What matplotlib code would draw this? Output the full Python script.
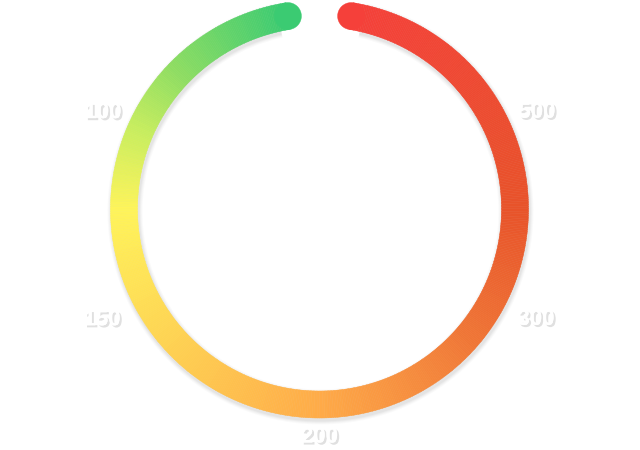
import numpy as np
import matplotlib
matplotlib.use("Agg")
import matplotlib.pyplot as plt
from matplotlib.patches import Wedge, Circle
from matplotlib.colors import LinearSegmentedColormap
import matplotlib.patheffects as pe

# data
tick_labels = ["500", "300", "200", "150", "100"]
tick_angles = [66, 117, 180, 243, 294]   # degrees clockwise from 12 o'clock
tick_radii = [238, 243, 228, 244, 237]
arc_start, arc_end = 9.3, 350.7          # degrees clockwise from 12 o'clock

stops = [(0.0, '#F5403A'), (0.236, '#E8532A'), (0.353, '#F07535'),
         (0.5, '#FFAB48'), (0.764, '#FFF45A'), (0.834, '#C8EE5E'),
         (0.895, '#8EDD62'), (1.0, '#3BCB72')]
cmap = LinearSegmentedColormap.from_list('g', stops)

W, H = 640, 450
fig = plt.figure(figsize=(6.4, 4.5), dpi=100)
ax = fig.add_axes([0, 0, 1, 1])
ax.set_xlim(0, W)
ax.set_ylim(H, 0)
ax.axis('off')

cx, cy = 319.5, 209.0
r_out, width = 209.0, 27.0
r_mid = r_out - width / 2

def to_xy(theta_deg, r):
    t = np.radians(theta_deg)
    return cx + r * np.sin(t), cy - r * np.cos(t)

def mpl_angle(theta_deg):
    return theta_deg - 90

# soft shadow
for off, a in [(4, 0.02), (3, 0.025), (2, 0.03), (1, 0.03)]:
    ax.add_patch(Wedge((cx + 1.0, cy + 2.5), r_out + off, mpl_angle(arc_start + 3), mpl_angle(arc_end - 3),
                       width=width + 2 * off, facecolor='#000000', alpha=a, lw=0))

# gradient ring
n = 700
edges = np.linspace(arc_start, arc_end, n + 1)
for i in range(n):
    c = cmap((i + 0.5) / n)
    ax.add_patch(Wedge((cx, cy), r_out, mpl_angle(edges[i]), mpl_angle(edges[i + 1]) + 0.05,
                       width=width, facecolor=c, edgecolor=c, lw=0.3))
for th, f in ((arc_start, 0.0), (arc_end, 1.0)):
    x, y = to_xy(th, r_mid)
    ax.add_patch(Circle((x, y), width / 2, facecolor=cmap(f), edgecolor=cmap(f), lw=0.3))

# labels
for lab, th, r in zip(tick_labels, tick_angles, tick_radii):
    x, y = to_xy(th, r)
    ax.text(x, y, lab, ha='center', va='center', fontsize=16, fontweight='bold',
            family=['Liberation Sans', 'DejaVu Sans'], color='white',
            path_effects=[pe.withSimplePatchShadow(offset=(1.5, -1.5), shadow_rgbFace='#000000', alpha=0.12),
                          pe.Normal()])

fig.savefig('out.png', dpi=100, facecolor='white')
